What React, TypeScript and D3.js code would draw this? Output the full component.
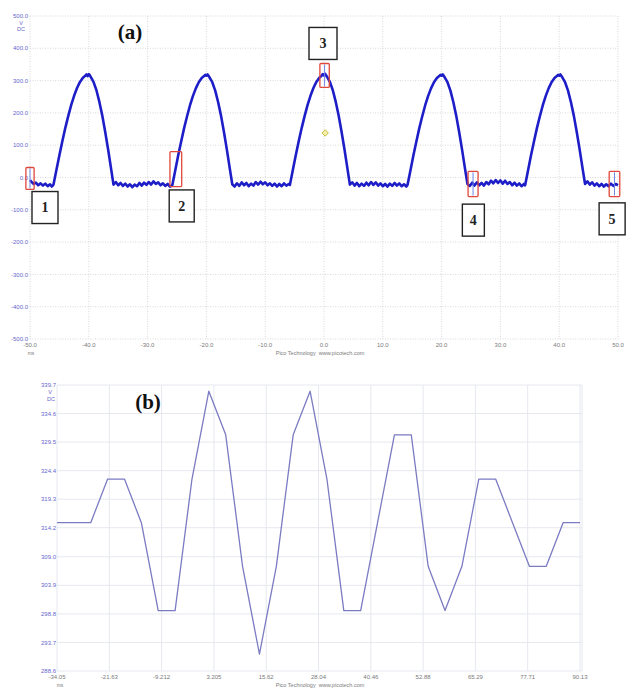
import React from 'react';
import * as d3 from 'd3';

const W = 626;
const H = 689;

// ---------- Panel (a): oscilloscope capture, ms vs V ----------
const aTimeTicks = [-50, -40, -30, -20, -10, 0, 10, 20, 30, 40, 50];
const aVoltTicks = [-500, -400, -300, -200, -100, 0, 100, 200, 300, 400, 500];

// [time ms, voltage V]
const scopeTrace: [number, number][] = [
  [-50, -8], [-49.7, -14], [-49.4, -20], [-49, -16], [-48.6, -24], [-48.2, -18], [-47.8, -25], [-47.4, -19],
  [-47, -27], [-46.6, -21], [-46.3, -28], [-46, -22],
  [-45.5, 24], [-45, 69], [-44.5, 112], [-44, 153], [-43.5, 190], [-43, 224], [-42.5, 253], [-42, 277],
  [-41.5, 296], [-41, 309], [-40.6, 315], [-40.4, 319], [-40.2, 314], [-40.0, 320], [-39.8, 316],
  [-39.7, 312], [-39.2, 296], [-38.7, 270], [-38.2, 234], [-37.7, 191], [-37.2, 140], [-36.7, 85], [-36.2, 26], [-35.8, -22],
  [-35.4, -14], [-35, -24], [-34.6, -17], [-34.2, -26], [-33.8, -19], [-33.4, -28], [-33, -21], [-32.6, -30],
  [-32.2, -22], [-31.8, -27], [-31.4, -17], [-31, -25], [-30.6, -16], [-30.2, -23], [-29.8, -14], [-29.4, -22],
  [-29, -12], [-28.6, -20], [-28.2, -15], [-27.8, -24], [-27.4, -18], [-27, -26], [-26.6, -20], [-26.2, -28], [-25.8, -24],
  [-25.3, 22], [-24.8, 68], [-24.3, 111], [-23.8, 152], [-23.3, 189], [-22.8, 223], [-22.3, 252], [-21.8, 276],
  [-21.3, 295], [-20.8, 308], [-20.4, 314], [-20.2, 318], [-20.0, 315], [-19.8, 319],
  [-19.5, 311], [-19.0, 295], [-18.5, 269], [-18.0, 233], [-17.5, 190], [-17.0, 139], [-16.5, 84], [-16.0, 25], [-15.6, -21],
  [-15.2, -28], [-14.8, -18], [-14.4, -26], [-14, -15], [-13.6, -24], [-13.2, -17], [-12.8, -27], [-12.4, -19],
  [-12, -25], [-11.6, -14], [-11.2, -22], [-10.8, -13], [-10.4, -21], [-10, -15], [-9.6, -24], [-9.2, -18],
  [-8.8, -26], [-8.4, -19], [-8, -28], [-7.6, -20], [-7.2, -27], [-6.8, -18], [-6.4, -25], [-6, -20], [-5.8, -23],
  [-5.3, 23], [-4.8, 69], [-4.3, 112], [-3.8, 153], [-3.3, 190], [-2.8, 224], [-2.3, 253], [-1.8, 277],
  [-1.3, 296], [-0.8, 309], [-0.4, 315], [-0.2, 320], [0, 316], [0.2, 321],
  [0.5, 312], [1.0, 296], [1.5, 270], [2.0, 234], [2.5, 191], [3.0, 140], [3.5, 85], [4.0, 26], [4.4, -22],
  [4.8, -15], [5.2, -25], [5.6, -17], [6, -27], [6.4, -19], [6.8, -26], [7.2, -16], [7.6, -24],
  [8, -14], [8.4, -23], [8.8, -15], [9.2, -25], [9.6, -18], [10, -27], [10.4, -20], [10.8, -28],
  [11.2, -19], [11.6, -26], [12, -17], [12.4, -25], [12.8, -18], [13.2, -27], [13.6, -21], [14, -28], [14.2, -23],
  [14.7, 22], [15.2, 68], [15.7, 111], [16.2, 152], [16.7, 189], [17.2, 223], [17.7, 252], [18.2, 276],
  [18.7, 295], [19.2, 308], [19.6, 314], [19.8, 318], [20.0, 315], [20.2, 319],
  [20.5, 311], [21.0, 295], [21.5, 269], [22.0, 233], [22.5, 190], [23.0, 139], [23.5, 84], [24.0, 25], [24.4, -20],
  [24.8, -26], [25.2, -16], [25.6, -25], [26, -15], [26.4, -24], [26.8, -17], [27.2, -25], [27.6, -14],
  [28, -21], [28.4, -10], [28.8, -18], [29.2, -8], [29.6, -17], [30, -9], [30.4, -19], [30.8, -10],
  [31.2, -20], [31.6, -14], [32, -24], [32.4, -16], [32.8, -25], [33.2, -18], [33.6, -27], [34, -20], [34.2, -24],
  [34.7, 22], [35.2, 68], [35.7, 111], [36.2, 152], [36.7, 189], [37.2, 223], [37.7, 252], [38.2, 276],
  [38.7, 295], [39.2, 308], [39.6, 314], [39.8, 318], [40.0, 315], [40.2, 319],
  [40.5, 311], [41.0, 295], [41.5, 269], [42.0, 233], [42.5, 190], [43.0, 139], [43.5, 84], [44.0, 25], [44.4, -20],
  [44.8, -12], [45.2, -22], [45.6, -15], [46, -25], [46.4, -18], [46.8, -27], [47.2, -20], [47.6, -28],
  [48, -21], [48.4, -27], [48.8, -19], [49.2, -26], [49.6, -20], [50, -24],
];

// Highlighted regions of the trace (ms / V extents)
const markerBoxes = [
  { id: '1', t0: -50.7, t1: -49.3, v0: -37, v1: 31, cursor: true },
  { id: '2', t0: -26.2, t1: -24.2, v0: -28, v1: 80, cursor: false },
  { id: '3', t0: -0.7, t1: 0.9, v0: 279, v1: 353, cursor: true },
  { id: '4', t0: 24.5, t1: 26.2, v0: -59, v1: 19, cursor: true },
  { id: '5', t0: 48.5, t1: 50.3, v0: -59, v1: 19, cursor: true },
];

// Numbered callouts, centred at (ms, V)
const callouts = [
  { label: '1', t: -47.45, v: -93, w: 26 },
  { label: '2', t: -24.2, v: -88, w: 25 },
  { label: '3', t: -0.17, v: 415, w: 28 },
  { label: '4', t: 25.4, v: -132, w: 22 },
  { label: '5', t: 49.0, v: -128, w: 26 },
];

const triggerPoint = { t: 0.2, v: 138 };

// ---------- Panel (b): zoomed peak detail ----------
const bTimeLabels = ['-34.05', '-21.63', '-9.212', '3.205', '15.62', '28.04', '40.46', '52.88', '65.29', '77.71', '90.13'];
const bVoltLabels = ['288.6', '293.7', '298.8', '303.9', '309.0', '314.2', '319.3', '324.4', '329.5', '334.6', '339.7'];

const bTimes = [
  -34.05, -30.04, -26.04, -22.03, -18.03, -14.02, -10.02, -6.01, -2.0, 2.0, 6.01, 10.01, 14.02, 18.03, 22.03, 26.04,
  30.04, 34.05, 38.05, 42.06, 46.07, 50.07, 54.08, 58.08, 62.09, 66.1, 70.1, 74.11, 78.11, 82.12, 86.12, 90.13,
];
const bVolts = [
  315.1, 315.1, 315.1, 322.9, 322.9, 315.1, 299.4, 299.4, 322.9, 338.6, 330.8, 307.3, 291.6, 307.3, 330.8, 338.6,
  322.9, 299.4, 299.4, 315.1, 330.8, 330.8, 307.3, 299.4, 307.3, 322.9, 322.9, 315.1, 307.3, 307.3, 315.1, 315.1,
];

const tickFont = 'Liberation Sans, Arial, sans-serif';
const axisBlue = '#6666cc';
const axisGrey = '#7a7a7a';

function PanelA() {
  const x = d3.scaleLinear().domain([-50, 50]).range([30, 618]);
  const y = d3.scaleLinear().domain([-500, 500]).range([339, 16]);
  const line = d3
    .line<[number, number]>()
    .x((d) => x(d[0]))
    .y((d) => y(d[1]));

  return (
    <g>
      {aVoltTicks.map((v) => (
        <line key={'h' + v} x1={x(-50)} x2={x(50)} y1={y(v)} y2={y(v)} stroke="#cfcfd4" strokeWidth={0.8} strokeDasharray="1 1.5" />
      ))}
      {aTimeTicks.map((t) => (
        <line key={'v' + t} x1={x(t)} x2={x(t)} y1={y(500)} y2={y(-500)} stroke="#cfcfd4" strokeWidth={0.8} strokeDasharray="1 1.5" />
      ))}
      {aVoltTicks.map((v) => (
        <text key={'yl' + v} x={28} y={y(v)} dy="0.35em" textAnchor="end" fontSize={6} fontFamily={tickFont} fill={axisBlue}>
          {v.toFixed(1)}
        </text>
      ))}
      <text x={21} y={25} textAnchor="middle" fontSize={5.5} fontFamily={tickFont} fill={axisBlue}>V</text>
      <text x={21} y={31} textAnchor="middle" fontSize={5.5} fontFamily={tickFont} fill={axisBlue}>DC</text>
      {aTimeTicks.map((t) => (
        <text key={'xl' + t} x={x(t)} y={347} textAnchor="middle" fontSize={6} fontFamily={tickFont} fill={axisGrey}>
          {t.toFixed(1)}
        </text>
      ))}
      <text x={31} y={355} textAnchor="middle" fontSize={5} fontFamily={tickFont} fill={axisGrey}>ms</text>
      <text x={320} y={355} textAnchor="middle" fontSize={5.5} fontFamily={tickFont} fill={axisGrey}>
        Pico Technology{'\u00a0\u00a0'}www.picotech.com
      </text>

      <path d={line(scopeTrace) || ''} fill="none" stroke="#1e1ec8" strokeWidth={2.6} strokeLinejoin="round" />

      <path
        d={`M${x(triggerPoint.t)},${y(triggerPoint.v) - 3.2} l3.2,3.2 l-3.2,3.2 l-3.2,-3.2 z`}
        fill="#f4f0a8"
        stroke="#c8bc3c"
        strokeWidth={1}
      />

      {markerBoxes.map((b) => (
        <g key={'m' + b.id}>
          {b.cursor && (
            <line
              x1={(x(b.t0) + x(b.t1)) / 2}
              x2={(x(b.t0) + x(b.t1)) / 2}
              y1={y(b.v1) + 1}
              y2={y(b.v0) - 1}
              stroke="#6f86e6"
              strokeWidth={1}
            />
          )}
          <rect
            x={x(b.t0)}
            y={y(b.v1)}
            width={x(b.t1) - x(b.t0)}
            height={y(b.v0) - y(b.v1)}
            fill="none"
            stroke="#e0473d"
            strokeWidth={1.3}
            rx={1}
          />
        </g>
      ))}

      {callouts.map((c) => (
        <g key={'c' + c.label}>
          <rect x={x(c.t) - c.w / 2} y={y(c.v) - 16} width={c.w} height={32} fill="#ffffff" stroke="#222" strokeWidth={1.4} />
          <text
            x={x(c.t)}
            y={y(c.v)}
            dy="0.35em"
            textAnchor="middle"
            fontSize={14}
            fontWeight="bold"
            fontFamily="Liberation Serif, Times New Roman, serif"
            fill="#222"
          >
            {c.label}
          </text>
        </g>
      ))}

      <text x={130} y={39} textAnchor="middle" fontSize={21} fontWeight="bold" fontFamily="Liberation Serif, Times New Roman, serif" fill="#111">
        (a)
      </text>
    </g>
  );
}

function PanelB() {
  const tVals = bTimeLabels.map(Number);
  const vVals = bVoltLabels.map(Number);
  const x = d3.scaleLinear().domain([tVals[0], tVals[tVals.length - 1]]).range([57, 580]);
  const y = d3.scaleLinear().domain([vVals[0], vVals[vVals.length - 1]]).range([671, 385]);
  const pts = bTimes.map((t, i) => [t, bVolts[i]] as [number, number]);
  const line = d3
    .line<[number, number]>()
    .x((d) => x(d[0]))
    .y((d) => y(d[1]));

  return (
    <g>
      {vVals.map((v, i) => (
        <line key={'h' + i} x1={57} x2={582} y1={y(v)} y2={y(v)} stroke="#e6e8ef" strokeWidth={1} />
      ))}
      {tVals.map((t, i) => (
        <line key={'v' + i} x1={x(t)} x2={x(t)} y1={385} y2={671} stroke="#e6e8ef" strokeWidth={1} />
      ))}
      <line x1={582} x2={582} y1={385} y2={671} stroke="#e6e8ef" strokeWidth={1} />
      {vVals.map((v, i) => (
        <text key={'yl' + i} x={56} y={y(v)} dy="0.35em" textAnchor="end" fontSize={6} fontFamily={tickFont} fill={axisBlue}>
          {bVoltLabels[i]}
        </text>
      ))}
      <text x={50} y={394} textAnchor="middle" fontSize={5.5} fontFamily={tickFont} fill={axisBlue}>V</text>
      <text x={51} y={401} textAnchor="middle" fontSize={5.5} fontFamily={tickFont} fill={axisBlue}>DC</text>
      {tVals.map((t, i) => (
        <text key={'xl' + i} x={x(t)} y={679} textAnchor="middle" fontSize={6} fontFamily={tickFont} fill={axisGrey}>
          {bTimeLabels[i]}
        </text>
      ))}
      <text x={60} y={687} textAnchor="middle" fontSize={5} fontFamily={tickFont} fill={axisGrey}>ms</text>
      <text x={320} y={687} textAnchor="middle" fontSize={5.5} fontFamily={tickFont} fill={axisGrey}>
        Pico Technology{'\u00a0\u00a0'}www.picotech.com
      </text>

      <path d={line(pts) || ''} fill="none" stroke="#7b7bc2" strokeWidth={1.3} strokeLinejoin="round" />

      <text x={148} y={409} textAnchor="middle" fontSize={21} fontWeight="bold" fontFamily="Liberation Serif, Times New Roman, serif" fill="#111">
        (b)
      </text>
    </g>
  );
}

export default function App() {
  return (
    <svg
      width={W}
      height={H}
      viewBox={`0 0 ${W} ${H}`}
      style={{ position: 'absolute', left: 0, top: 0, background: '#ffffff', display: 'block' }}
    >
      <rect x={0} y={0} width={W} height={H} fill="#ffffff" />
      <PanelA />
      <PanelB />
    </svg>
  );
}
